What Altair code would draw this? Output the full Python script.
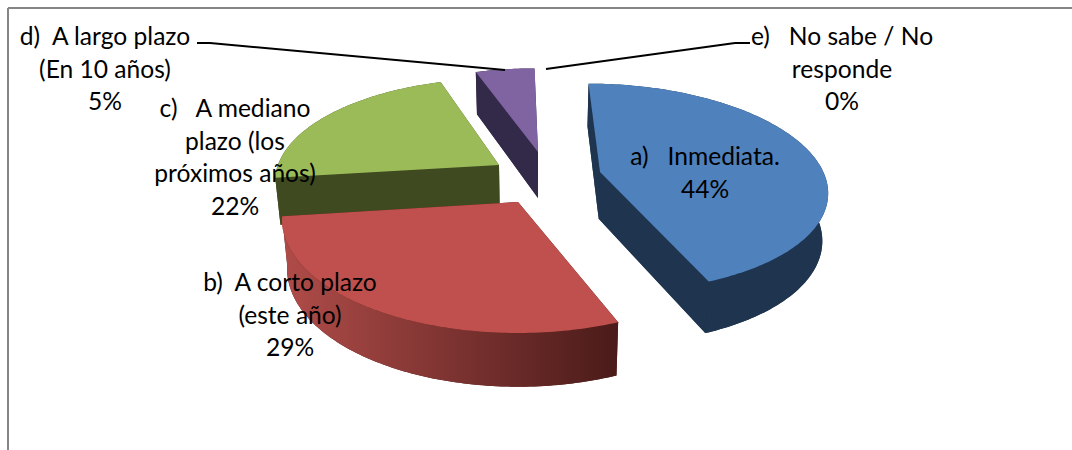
import math
import altair as alt

# Survey results
shares = [44, 29, 22, 5, 0]
label_lines = [
    ["a)\u00a0\u00a0\u00a0Inmediata."],
    ["b)\u00a0\u00a0A corto plazo", "(este año)"],
    ["c)\u00a0\u00a0\u00a0A mediano", "plazo (los", "próximos años)"],
    ["d)\u00a0\u00a0A largo plazo", "(En 10 años)"],
    ["e)\u00a0\u00a0\u00a0No sabe / No", "responde"],
]
label_centers = [(705, 165), (290, 291), (235, 117), (105, 45), (842, 45)]
line_step = 32.5

top_colors = ["#4f81bd", "#c0504d", "#9bbb59", "#8064a2"]
wall_colors = ["#1f344e", "#4f1d1b", "#3f4a21", "#332949"]

# Perspective model of the tilted disc
CX, CY = 535, 177
RX, RY, PERSP, SHEAR = 225, 103, 0.15, 3
DEPTH = 47
LOWER_SCALE = 0.98
# Where each exploded slice's tip lands on the page
tips = [(600, 172), (518, 202), (499, 165), (538, 152)]


def to_page(X, Y):
    p = 1 / (1 + PERSP * Y)
    return CX + RX * X * p - SHEAR * Y, CY - RY * Y * p, p


def from_page(x, y):
    dx, dy = x - CX, y - CY
    Y = -dy / (RY + PERSP * dy)
    return (dx + SHEAR * Y) * (1 + PERSP * Y) / RX, Y


def lower(pt):
    p = pt[2]
    return [CX + (pt[0] - CX) * LOWER_SCALE, pt[1] + DEPTH * p ** 0.65]


def feature(ring, fill):
    ring = [list(q[:2]) for q in ring]
    ring.append(ring[0])
    return {
        "type": "Feature",
        "properties": {"fill": fill},
        "geometry": {"type": "Polygon", "coordinates": [ring]},
    }


def collection(features):
    return alt.InlineData(
        values={"type": "FeatureCollection", "features": features},
        format=alt.DataFormat(property="features", type="json"),
    )


slices = []
start = 0.0
for share, tip in zip(shares, tips):
    sweep = share * 3.6
    ox, oy = from_page(*tip)
    steps = max(int(sweep), 2)
    rim = []
    for i in range(steps + 1):
        a = math.radians(start + sweep * i / steps)
        rim.append(to_page(ox + math.sin(a), oy + math.cos(a)))
    apex = to_page(ox, oy)
    slices.append({"apex": apex, "rim": rim})
    start += sweep


def wall_parts(s, color):
    apex, rim = s["apex"], s["rim"]
    low_apex = lower(apex)
    low_rim = [lower(q) for q in rim]
    return [
        feature([low_apex] + low_rim, color),
        feature([apex, rim[0], low_rim[0], low_apex], color),
        feature([apex, rim[-1], low_rim[-1], low_apex], color),
    ]


def band(s, color):
    return feature(s["rim"] + [lower(q) for q in reversed(s["rim"])], color)


def top(s, color):
    return feature([s["apex"]] + s["rim"], color)


projection = alt.Projection(type="identity", scale=1, translate=[0, 0])


def geo_layer(features):
    return (
        alt.Chart(collection(features))
        .mark_geoshape(strokeWidth=0)
        .encode(fill=alt.Fill("properties.fill:N", scale=None))
        .project(**projection.to_dict())
    )


a, b, c, d = slices
back = geo_layer(
    wall_parts(d, wall_colors[3]) + [band(d, wall_colors[3]), top(d, top_colors[3])]
    + wall_parts(c, wall_colors[2]) + [band(c, wall_colors[2]), top(c, top_colors[2])]
    + wall_parts(b, wall_colors[1])
)
red_band = (
    alt.Chart(collection([band(b, "x")]))
    .mark_geoshape(
        strokeWidth=0,
        fill=alt.Gradient(
            gradient="linear",
            x1=0, x2=1, y1=0, y2=0,
            stops=[
                alt.GradientStop(offset=0, color="#b04c49"),
                alt.GradientStop(offset=1, color="#4a1b19"),
            ],
        ),
    )
    .project(**projection.to_dict())
)
front = geo_layer(
    [top(b, top_colors[1])]
    + wall_parts(a, wall_colors[0]) + [band(a, wall_colors[0]), top(a, top_colors[0])]
)


def seg(x1, y1, x2, y2, color="#000000", width=2):
    return alt.Chart(alt.Data(values=[{}])).mark_rule(color=color, strokeWidth=width).encode(
        x=alt.value(x1), y=alt.value(y1), x2=alt.value(x2), y2=alt.value(y2)
    )


frame = [seg(8, 8, 1072, 8, "#868686"), seg(8, 8, 8, 450, "#868686")]
leaders = [
    seg(197, 43, 210, 43), seg(210, 43, 505, 70),
    seg(750, 43, 735, 43), seg(735, 43, 546, 69),
]

rows = []
for lines, share, (x, y) in zip(label_lines, shares, label_centers):
    for i, text in enumerate(lines + [f"{share}%"]):
        rows.append({"text": text, "x": x, "y": y + i * line_step})

labels = (
    alt.Chart(alt.Data(values=rows))
    .mark_text(font="Lato", fontSize=24.6, color="#000000", align="center", baseline="alphabetic")
    .encode(
        x=alt.X("x:Q", scale=None, axis=None),
        y=alt.Y("y:Q", scale=None, axis=None),
        text="text:N",
    )
)

chart = (
    alt.layer(back, red_band, front, *leaders, *frame, labels)
    .properties(width=1072, height=450, padding=0, background="white",
                autosize=alt.AutoSizeParams(type="none"))
    .configure_view(strokeWidth=0)
)
chart.save("out.html", embed_options={"renderer": "svg", "actions": False})
